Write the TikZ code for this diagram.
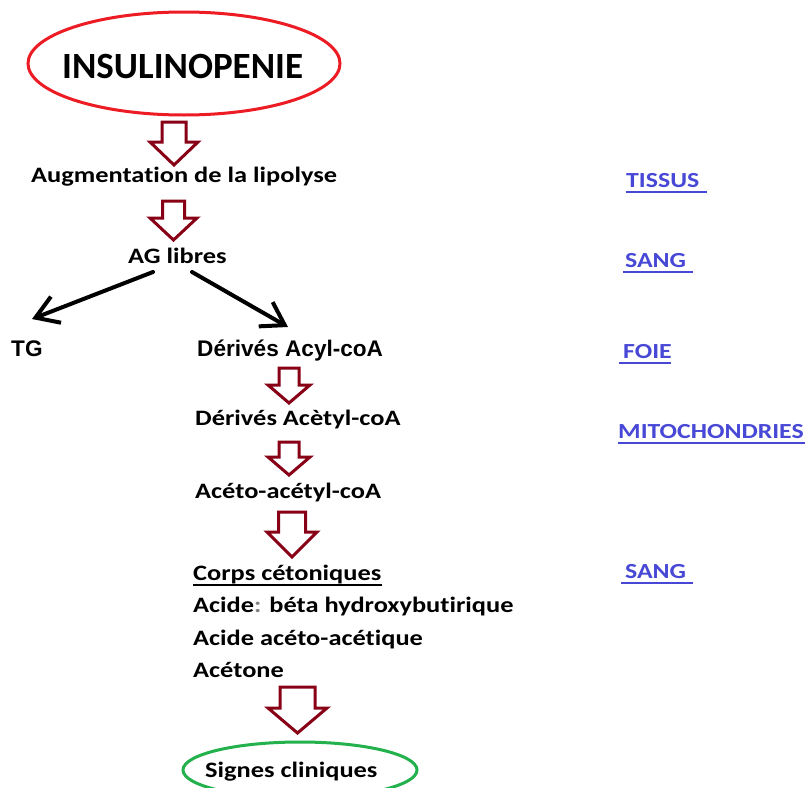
\documentclass[tikz,border=0pt]{standalone}
\usepackage{fontspec}
\setmainfont{Carlito}[Ligatures=NoCommon]
\newfontfamily\widefont{Carlito}[Ligatures=NoCommon, FakeStretch=1.2]
\newfontfamily\arialfont{Liberation Sans}
\usetikzlibrary{arrows.meta,shapes.geometric}

\definecolor{darkred}{RGB}{136,0,21}
\definecolor{paintred}{RGB}{237,28,36}
\definecolor{paintgreen}{RGB}{34,177,76}
\definecolor{linkblue}{RGB}{72,72,214}

\tikzset{
  lbl/.style={anchor=base west, inner sep=0pt, font=\fontsize{22}{26}\selectfont\widefont\bfseries},
  albl/.style={anchor=base west, inner sep=0pt, font=\fontsize{22.6}{26}\selectfont\arialfont\bfseries},
  place/.style={anchor=base west, inner sep=0pt, text=linkblue, font=\fontsize{21.5}{25}\selectfont\widefont\bfseries},
  placeline/.style={draw=linkblue, line width=1.6pt},
  hollow/.style={draw=darkred, fill=white, line width=3pt, line join=miter},
  conn/.style={draw=black, line width=4pt, line cap=round,
    -{Straight Barb[length=22pt,width=28pt,line width=4pt]}},
  oval/.style={ellipse, draw, line width=3pt, inner sep=0pt}
}

% hollow block arrow: centre x, top y, head base y, tip y, shaft half width, head half width
\newcommand\blockarrow[6]{%
  \draw[hollow] (#1-#5,#2) -- (#1+#5,#2) -- (#1+#5,#3) -- (#1+#6,#3)
    -- (#1,#4) -- (#1-#6,#3) -- (#1-#5,#3) -- cycle;}

\begin{document}
\begin{tikzpicture}[x=1pt,y=-1pt]
\useasboundingbox[fill=white] (0,0) rectangle (805,787);

% start and end
\node[oval, draw=paintred, minimum width=312pt, minimum height=103pt] (insuoval) at (184,63.5) {};
\node[anchor=base west, inner sep=0pt, font=\fontsize{37}{41}\selectfont\bfseries] (insu) at (62,78) {INSULINOPENIE};

\node[oval, draw=paintgreen, minimum width=234pt, minimum height=56pt] (signoval) at (300,770) {};
\node[lbl] (signes) at (205,777) {Signes cliniques};

% main chain
\node[lbl] (lipo) at (31,182) {Augmentation de la lipolyse};
\node[lbl] (ag) at (128,263) {AG libres};
\node[albl] (tg) at (11,356) {TG};
\node[albl] (acyl) at (197,356) {Dérivés Acyl-coA};
\node[lbl] (acetyl) at (195,425) {Dérivés Acètyl-coA};
\node[lbl] (aceto) at (195,498) {Acéto-acétyl-coA};
\node[lbl] (corps) at (193,580) {Corps cétoniques};
\draw[line width=1.5pt] ([yshift=-5pt]corps.base west) -- ([yshift=-5pt]corps.base east);
\node[lbl] (beta) at (193,612) {Acide\textcolor{gray}{:} béta hydroxybutirique};
\node[lbl] (acac) at (193,645) {Acide acéto-acétique};
\node[lbl] (acetone) at (193,677) {Acétone};

% hollow arrows between the steps
\blockarrow{174}{122}{142}{165}{12}{24}
\blockarrow{173.5}{201}{218}{240}{11}{23.5}
\blockarrow{289}{368}{385}{403}{10}{21}
\blockarrow{289}{442}{457}{475}{10}{21}
\blockarrow{292}{512}{532}{557}{13.5}{25}
\blockarrow{297.5}{687}{708}{733}{17.5}{29.5}

% branching from the free fatty acids
\coordinate (agl) at (153,272);
\coordinate (agr) at (192,272);
\coordinate (tgend) at (32,319);
\coordinate (acylend) at (288,327);
\draw[conn] (agl) -- (tgend);
\draw[conn] (agr) -- (acylend);

% compartments
\node[place] (tissus) at (626,187) {TISSUS};
\draw[placeline] (626,192) -- (707,192);
\node[place] (sang1) at (625,267) {SANG};
\draw[placeline] (623,272) -- (693,272);
\node[place] (foie) at (623,358) {FOIE};
\draw[placeline] (619,363) -- (671,363);
\node[place] (mito) at (618,438) {MITOCHONDRIES};
\draw[placeline] (618,443) -- (805,443);
\node[place] (sang2) at (625,578) {SANG};
\draw[placeline] (621,583) -- (693,583);
\end{tikzpicture}
\end{document}
